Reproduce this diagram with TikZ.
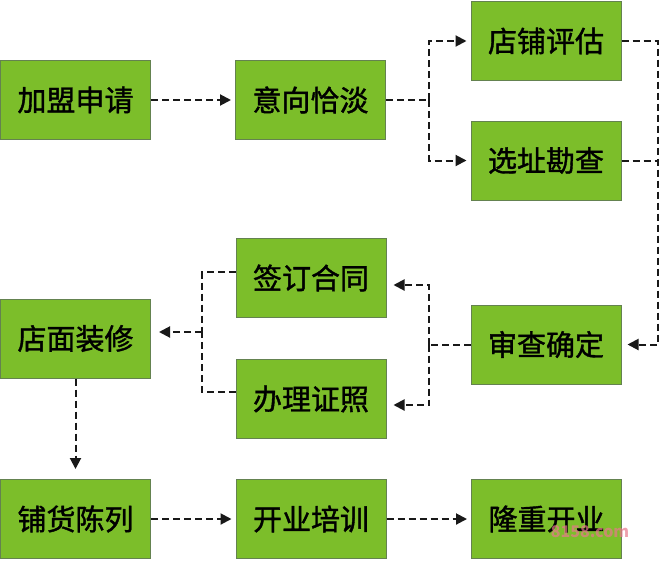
\documentclass[tikz,border=0pt]{standalone}
\usepackage{fontspec}
\setmainfont{Noto Sans CJK SC}
\newfontfamily\boxfont{Noto Sans CJK SC}[FakeBold=1.3]
\usetikzlibrary{arrows.meta}
\definecolor{boxgreen}{RGB}{124,190,42}
\definecolor{boxborder}{RGB}{100,130,80}
\definecolor{wm}{RGB}{232,120,140}
\begin{document}
\begin{tikzpicture}[x=1pt,y=-1pt,
  box/.style={draw=boxborder, fill=boxgreen, line width=1pt, minimum width=150pt, minimum height=79pt, inner sep=0pt, font=\boxfont\fontsize{29}{31}\selectfont, text=black},
  link/.style={dash pattern=on 7pt off 4pt, line width=2pt, draw=black!90},
  arr/.style={link, -{Triangle[length=11pt,width=11pt]}}]
\useasboundingbox (0,0) rectangle (660,560);
\fill[white] (0,0) rectangle (660,560);
\node[box] (a) at (75.5,100) {加盟申请};
\node[box] (b) at (310.5,100) {意向恰淡};
\node[box] (c) at (546,41) {店铺评估};
\node[box] (d) at (546,160.5) {选址勘查};
\node[box] (e) at (546,344.5) {审查确定};
\node[box] (f) at (311,278) {签订合同};
\node[box] (g) at (311,399) {办理证照};
\node[box] (h) at (75.5,338.5) {店面装修};
\node[box] (i) at (75.5,519) {铺货陈列};
\node[box] (j) at (311,519) {开业培训};
\node[box] (k) at (546.5,519) {隆重开业};
\node[text=wm, opacity=0.7, font=\fontsize{16}{17}\selectfont\bfseries] (w) at (590,532) {8158.com};
% top row
\draw[arr, shorten >=4pt] (a.east) -- (b.west);
\coordinate (s1) at (429,100);
\draw[link] (b.east) -- (s1);
\draw[arr, shorten >=4pt] (s1) |- (c.west);
\draw[arr, shorten >=4pt] (s1) |- (d.west);
% right column
\coordinate (r) at (658,0);
\draw[arr, shorten >=6pt] (c.east) -- (c.east -| r) |- (e.east);
\draw[link] (d.east) -- (d.east -| r);
% middle
\coordinate (s3) at (429,344.5);
\draw[link] (e.west) -- (s3);
\draw[arr, shorten >=7pt] (s3) |- ([yshift=-7pt]f.east);
\draw[arr, shorten >=7pt] (s3) |- ([yshift=-6pt]g.east);
\coordinate (s4) at (202,332);
\draw[link] ([yshift=6pt]f.west) -| (s4);
\draw[link] ([yshift=7pt]g.west) -| (s4);
\draw[arr, shorten >=8pt] (s4) -- (h.east |- s4);
% down and bottom row
\draw[arr, shorten >=10pt] (h.south) -- (i.north);
\draw[arr, shorten >=4pt] (i.east) -- (j.west);
\draw[arr, shorten >=4pt] (j.east) -- (k.west);
\end{tikzpicture}
\end{document}
